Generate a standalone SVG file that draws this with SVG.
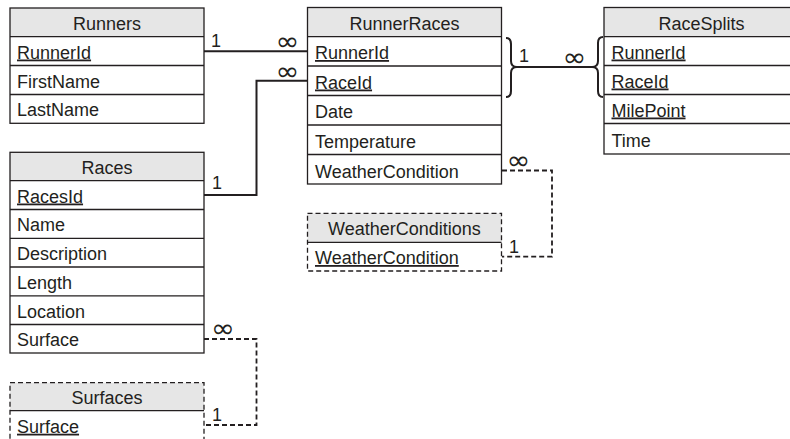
<svg xmlns="http://www.w3.org/2000/svg" width="790" height="439" viewBox="0 0 790 439">
<style>
.bg{fill:#ffffff}
.hdr{fill:#e6e6e6;stroke:none}
.box{fill:none;stroke:#231f20;stroke-width:1.3}
.dbox{fill:none;stroke:#231f20;stroke-width:1.3;stroke-dasharray:5 3}
.sep{stroke:#231f20;stroke-width:1.3}
text{font-family:"Liberation Sans",Arial,sans-serif;font-size:18px;fill:#231f20}
.title{text-anchor:middle}
.pk{text-decoration:underline}
.inf{font-family:"DejaVu Sans",sans-serif;font-size:22px}
.conn{fill:none;stroke:#231f20;stroke-width:2}
.dconn{fill:none;stroke:#231f20;stroke-width:1.8;stroke-dasharray:5 3}
</style>
<rect class="bg" x="0" y="0" width="790" height="439"/>

<g id="connectors">
  <polyline class="conn" points="204,51.2 307.5,51.2"/>
  <polyline class="conn" points="204,195 256.5,195 256.5,80.8 307.5,80.8"/>
  <path class="conn" d="M506,38 Q511,38 511,44 L511,61 Q511,67 517,67 Q511,67 511,73 L511,91 Q511,97 506,97"/>
  <path class="conn" d="M603,37 Q598,37 598,43 L598,61 Q598,67 592,67 Q598,67 598,73 L598,91 Q598,97 603,97"/>
  <polyline class="conn" points="517,67 592,67"/>
  <polyline class="dconn" points="502,170.5 552,170.5 552,256.7 502,256.7"/>
  <polyline class="dconn" points="204,339 256.5,339 256.5,425 204,425"/>
  <text x="211" y="46.7">1</text>
  <text class="inf" transform="translate(275.5,50.2) scale(1.3,1.15)">∞</text>
  <text class="inf" transform="translate(275.5,80.2) scale(1.3,1.15)">∞</text>
  <text x="212" y="189.3">1</text>
  <text x="519" y="62">1</text>
  <text class="inf" transform="translate(562.5,66.2) scale(1.3,1.15)">∞</text>
  <text class="inf" transform="translate(506.5,168.5) scale(1.3,1.15)">∞</text>
  <text x="509" y="253.3">1</text>
  <text class="inf" transform="translate(211,336.8) scale(1.3,1.15)">∞</text>
  <text x="212" y="420.7">1</text>
</g>

<g id="runners">
  <rect class="hdr" x="10" y="8" width="194" height="28.7"/>
  <rect class="box" x="10" y="8" width="194" height="115.3"/>
  <line class="sep" x1="10" y1="36.7" x2="204" y2="36.7"/>
  <line class="sep" x1="10" y1="65.5" x2="204" y2="65.5"/>
  <line class="sep" x1="10" y1="94.5" x2="204" y2="94.5"/>
  <text class="title" x="107" y="29.7">Runners</text>
  <text class="pk" x="17" y="58.5">RunnerId</text>
  <text x="17" y="87.5">FirstName</text>
  <text x="17" y="116.3">LastName</text>
</g>

<g id="runnerraces">
  <rect class="hdr" x="307.5" y="7.5" width="194" height="29.2"/>
  <rect class="box" x="307.5" y="7.5" width="194" height="176.5"/>
  <line class="sep" x1="307.5" y1="36.7" x2="501.5" y2="36.7"/>
  <line class="sep" x1="307.5" y1="66" x2="501.5" y2="66"/>
  <line class="sep" x1="307.5" y1="95.5" x2="501.5" y2="95.5"/>
  <line class="sep" x1="307.5" y1="125" x2="501.5" y2="125"/>
  <line class="sep" x1="307.5" y1="154.5" x2="501.5" y2="154.5"/>
  <text class="title" x="404.5" y="29.7">RunnerRaces</text>
  <text class="pk" x="315" y="59">RunnerId</text>
  <text class="pk" x="315" y="88.5">RaceId</text>
  <text x="315" y="118">Date</text>
  <text x="315" y="147.5">Temperature</text>
  <text x="315" y="177.5">WeatherCondition</text>
</g>

<g id="racesplits">
  <rect class="hdr" x="604" y="7.5" width="194" height="29.2"/>
  <rect class="box" x="604" y="7.5" width="194" height="146.5"/>
  <line class="sep" x1="604" y1="36.7" x2="798" y2="36.7"/>
  <line class="sep" x1="604" y1="65.5" x2="798" y2="65.5"/>
  <line class="sep" x1="604" y1="94.5" x2="798" y2="94.5"/>
  <line class="sep" x1="604" y1="123.5" x2="798" y2="123.5"/>
  <text class="title" x="701.5" y="29.7">RaceSplits</text>
  <text class="pk" x="611.5" y="58.5">RunnerId</text>
  <text class="pk" x="611.5" y="87.5">RaceId</text>
  <text class="pk" x="611.5" y="116.5">MilePoint</text>
  <text x="611.5" y="147">Time</text>
</g>

<g id="races">
  <rect class="hdr" x="10" y="152.3" width="194" height="28.4"/>
  <rect class="box" x="10" y="152.3" width="194" height="200.7"/>
  <line class="sep" x1="10" y1="180.7" x2="204" y2="180.7"/>
  <line class="sep" x1="10" y1="209.5" x2="204" y2="209.5"/>
  <line class="sep" x1="10" y1="238.3" x2="204" y2="238.3"/>
  <line class="sep" x1="10" y1="267" x2="204" y2="267"/>
  <line class="sep" x1="10" y1="295.8" x2="204" y2="295.8"/>
  <line class="sep" x1="10" y1="324.5" x2="204" y2="324.5"/>
  <text class="title" x="107" y="173.7">Races</text>
  <text class="pk" x="17" y="202.5">RacesId</text>
  <text x="17" y="231.3">Name</text>
  <text x="17" y="260">Description</text>
  <text x="17" y="288.8">Length</text>
  <text x="17" y="317.5">Location</text>
  <text x="17" y="346">Surface</text>
</g>

<g id="weatherconditions">
  <rect class="hdr" x="307.5" y="213.3" width="194" height="29"/>
  <rect class="dbox" x="307.5" y="213.3" width="194" height="57.7"/>
  <line class="sep" x1="307.5" y1="242.3" x2="501.5" y2="242.3"/>
  <text class="title" x="404.5" y="235.3">WeatherConditions</text>
  <text class="pk" x="315" y="264">WeatherCondition</text>
</g>

<g id="surfaces">
  <rect class="hdr" x="10" y="382.7" width="194" height="28"/>
  <rect class="dbox" x="10" y="382.7" width="194" height="70"/>
  <line class="sep" x1="10" y1="410.7" x2="204" y2="410.7"/>
  <text class="title" x="107" y="403.7">Surfaces</text>
  <text class="pk" x="17" y="432.7">Surface</text>
</g>
</svg>
